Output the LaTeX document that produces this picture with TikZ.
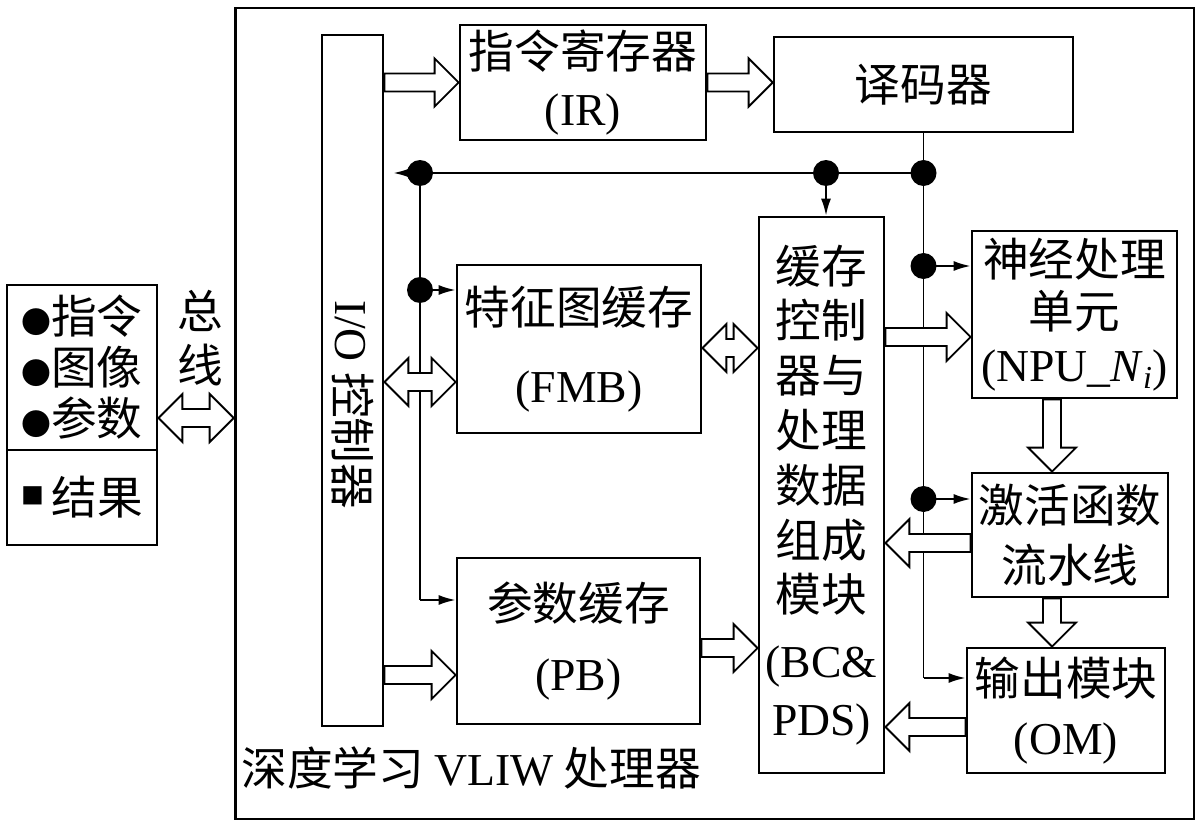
\documentclass[tikz,border=0pt]{standalone}
\usepackage{fontspec}
\setmainfont{Noto Sans CJK SC}
\newfontfamily\lat{Liberation Serif}
\usetikzlibrary{calc,arrows.meta}

\newcommand{\hashaft}{0.18cm}
\newcommand{\hahead}{0.48cm}
\newcommand{\halen}{0.48cm}
\newcommand{\dotmark}{{\fontsize{17pt}{29pt}\selectfont ●}}

\newcommand{\hollowarrow}[2]{%
	\coordinate (ha-s) at (#1);
	\coordinate (ha-e) at (#2);
	\coordinate (ha-b) at ($(ha-e)!\halen!(ha-s)$);
	\draw[hollow] ($(ha-s)!\hashaft!90:(ha-e)$) -- ($(ha-b)!\hashaft!-90:(ha-s)$)
		-- ($(ha-b)!\hahead!-90:(ha-s)$) -- (ha-e) -- ($(ha-b)!\hahead!90:(ha-s)$)
		-- ($(ha-b)!\hashaft!90:(ha-s)$) -- ($(ha-s)!\hashaft!-90:(ha-e)$) -- cycle;
}
\newcommand{\dblarrow}[2]{%
	\coordinate (ha-s) at (#1);
	\coordinate (ha-e) at (#2);
	\coordinate (ha-a) at ($(ha-s)!\halen!(ha-e)$);
	\coordinate (ha-b) at ($(ha-e)!\halen!(ha-s)$);
	\draw[hollow] (ha-s) -- ($(ha-a)!\hahead!90:(ha-e)$) -- ($(ha-a)!\hashaft!90:(ha-e)$)
		-- ($(ha-b)!\hashaft!-90:(ha-s)$) -- ($(ha-b)!\hahead!-90:(ha-s)$) -- (ha-e)
		-- ($(ha-b)!\hahead!90:(ha-s)$) -- ($(ha-b)!\hashaft!90:(ha-s)$)
		-- ($(ha-a)!\hashaft!-90:(ha-e)$) -- ($(ha-a)!\hahead!-90:(ha-e)$) -- cycle;
}

\begin{document}
\begin{tikzpicture}[x=0.02cm,y=-0.02cm]
	\tikzstyle{block}=[draw=black,line width=1.6pt,inner sep=0pt,align=center,font=\fontsize{26pt}{30pt}\selectfont]
	\tikzstyle{txt}=[inner sep=0pt,align=center,font=\fontsize{26pt}{30pt}\selectfont]
	\tikzstyle{wire}=[draw=black,line width=1.1pt]
	\tikzstyle{arr}=[-{Latex[length=0.34cm,width=0.2cm]}]
	\tikzstyle{hollow}=[draw=black,line width=1.1pt,fill=white,line join=miter]
	\useasboundingbox (0,0) rectangle (1200,828);
	\begin{scope}

		\node [block,minimum width=19.18cm,minimum height=16.22cm] (proc) at (714.5,413.5) {};
		\node [block,minimum width=3cm,minimum height=3.3cm,align=left,font=\fontsize{26pt}{29pt}\selectfont] (host) at (82,367.5) {\dotmark 指令\\\dotmark 图像\\\dotmark 参数};
		\node [block,minimum width=3cm,minimum height=1.9cm] (res) at (82,497.5) {\raisebox{0.22em}{\fontsize{13pt}{30pt}\selectfont ■}\,结果};
		\node [txt,font=\fontsize{26pt}{31pt}\selectfont] (bus) at (200,338) {总\\线};

		\node [block,minimum width=1.22cm,minimum height=13.82cm] (io) at (352.5,380.5) {};
		\node [txt,rotate=-90] (iotxt) at (352.5,405) {{\lat I/O} 控制器};
		\node [block,minimum width=4.92cm,minimum height=2.3cm] (ir) at (583,82.5) {指令寄存器\\[2pt]{\lat (IR)}};
		\node [block,minimum width=5.98cm,minimum height=1.9cm] (dec) at (923.5,84.5) {译码器};
		\node [block,minimum width=4.88cm,minimum height=3.36cm] (fmb) at (579,349) {特征图缓存\\[14pt]{\lat (FMB)}};
		\node [block,minimum width=4.86cm,minimum height=3.32cm] (pb) at (578.5,641) {参数缓存\\[10pt]{\lat (PB)}};
		\node [block,minimum width=2.5cm,minimum height=11.12cm,font=\fontsize{26pt}{31.2pt}\selectfont] (bc) at (821.5,495) {缓存\\控制\\器与\\处理\\数据\\组成\\模块\\[6pt]{\lat (BC\&}\\[2pt]{\lat PDS)}};
		\node [block,minimum width=4.1cm,minimum height=3.34cm] (npu) at (1074.5,314.5) {神经处理\\单元\\{\lat (NPU\_\textit{N}\textsubscript{\textit{i}})}};
		\node [block,minimum width=3.92cm,minimum height=2.48cm] (act) at (1070,535) {激活函数\\[4pt]流水线};
		\node [block,minimum width=3.96cm,minimum height=2.5cm] (om) at (1066,710.5) {输出模块\\[4pt]{\lat (OM)}};
		\node [txt,anchor=west] (title) at (241,768) {深度学习 {\lat VLIW} 处理器};

		\coordinate (j1) at (420,173);
		\coordinate (j2) at (826,173);
		\coordinate (j3) at (923.5,173);
		\coordinate (j4) at (420,290);
		\coordinate (j5) at (923.5,266);
		\coordinate (j6) at (923.5,499);
		\coordinate (c1) at (420,600);
		\coordinate (c2) at (923.5,678);

		\path[wire] (j3) -- (j1);
		\path[wire,arr,shorten >=0.18cm] (j1) -- (io.east |- j1);
		\path[wire] (j1) -- (c1);
		\path[wire,arr] (c1) -- (pb.west |- c1);
		\path[wire,arr] (j4) -- (fmb.west |- j4);
		\path[wire,arr] (j2) -- (j2 |- bc.north);
		\path[wire] (dec.south) -- (c2);
		\path[wire,arr] (c2) -- (om.west |- c2);
		\path[wire,arr] (j5) -- (npu.west |- j5);
		\path[wire,arr] (j6) -- (act.west |- j6);
		\foreach \j in {j1,j2,j3,j4,j5,j6}
			\fill (\j) circle (0.26cm);

		\coordinate (rbus) at (0,418);
		\coordinate (rfmb) at (0,382);
		\coordinate (rbc) at (0,348);
		\coordinate (rpb) at (0,675);
		\coordinate (rpbc) at (0,648);
		\coordinate (rnpu) at (0,337);
		\coordinate (ract) at (0,543);
		\coordinate (rom) at (0,727);
		\coordinate (cnpu) at (1052,0);

		\hollowarrow{io.east |- ir.west}{ir.west}
		\hollowarrow{ir.east}{ir.east -| dec.west}
		\dblarrow{host.east |- rbus}{proc.west |- rbus}
		\dblarrow{io.east |- rfmb}{fmb.west |- rfmb}
		\dblarrow{fmb.east |- rbc}{bc.west |- rbc}
		\hollowarrow{io.east |- rpb}{pb.west |- rpb}
		\hollowarrow{pb.east |- rpbc}{bc.west |- rpbc}
		\hollowarrow{bc.east |- rnpu}{npu.west |- rnpu}
		\hollowarrow{npu.south -| cnpu}{act.north -| cnpu}
		\hollowarrow{act.west |- ract}{bc.east |- ract}
		\hollowarrow{act.south -| cnpu}{om.north -| cnpu}
		\hollowarrow{om.west |- rom}{bc.east |- rom}

	\end{scope}
\end{tikzpicture}
\end{document}
